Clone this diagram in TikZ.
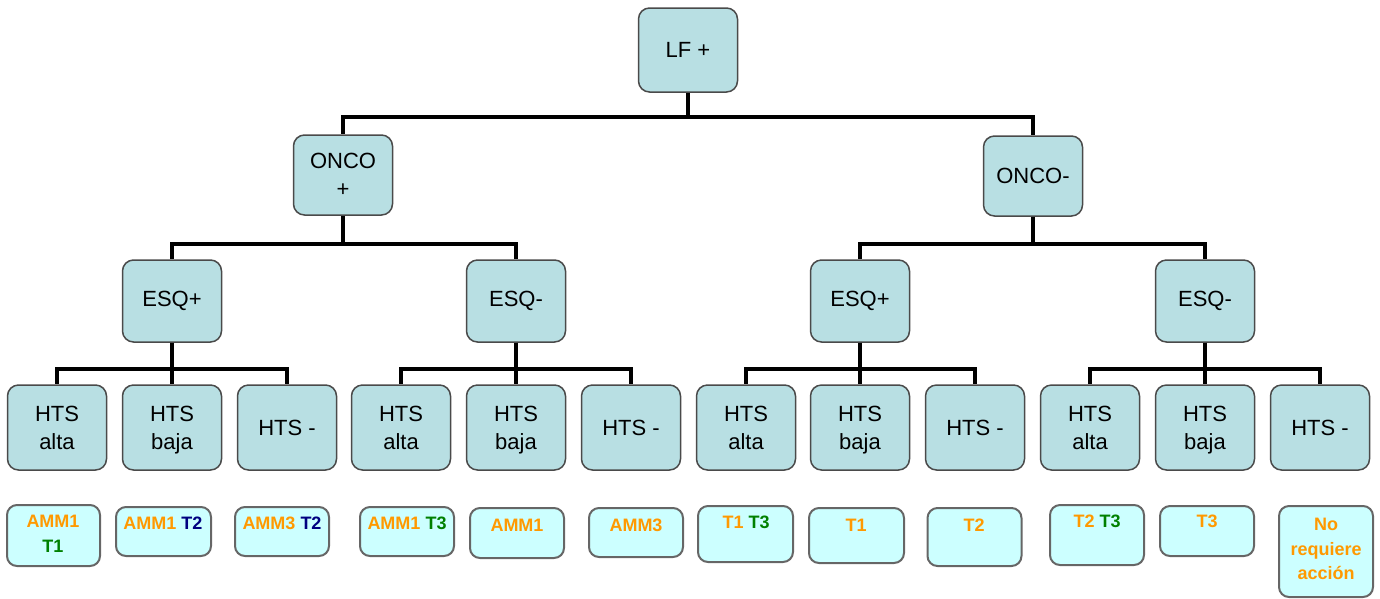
\documentclass[tikz,border=0pt]{standalone}
\usepackage{fontspec}
\setmainfont{Liberation Sans}
\definecolor{boxfill}{HTML}{B8DFE3}
\definecolor{boxline}{HTML}{4A4A4A}
\definecolor{leaffill}{HTML}{CCFFFF}
\definecolor{leafline}{HTML}{666666}
\definecolor{amb}{HTML}{FF9900}
\definecolor{vrd}{HTML}{008000}
\definecolor{nvy}{HTML}{000080}
\begin{document}
\begin{tikzpicture}[x=1pt,y=-1pt,
  box/.style={draw=boxline, line width=1.5pt, fill=boxfill, rounded corners=11pt,
    minimum width=99pt, minimum height=84pt, inner sep=0pt, align=center,
    font=\fontsize{22}{28}\selectfont},
  leaf/.style={draw=leafline, line width=2pt, fill=leaffill, rounded corners=10pt, inner sep=0pt},
  lt/.style={anchor=north, inner sep=0pt, align=center, font=\fontsize{18}{25}\selectfont\bfseries},
  conn/.style={line width=4pt, black}]
\useasboundingbox (0,0) rectangle (1380,598);

% main nodes
\node[box] (lf) at (688,50) {LF +};
\node[box, minimum height=80pt] (op) at (343,175) {ONCO\\+};
\node[box, minimum height=80pt] (om) at (1033,176) {ONCO-};
\node[box, minimum height=82pt] (e1) at (172,301) {ESQ+};
\node[box, minimum height=82pt] (e2) at (516,301) {ESQ-};
\node[box, minimum height=82pt] (e3) at (860,301) {ESQ+};
\node[box, minimum height=82pt] (e4) at (1205,301) {ESQ-};

\foreach \i/\x/\t in {1/57/{HTS\\alta},2/172/{HTS\\ba\smash{j}a},3/287/{HTS -},
  4/401/{HTS\\alta},5/516/{HTS\\ba\smash{j}a},6/631/{HTS -},
  7/746/{HTS\\alta},8/860/{HTS\\ba\smash{j}a},9/975/{HTS -},
  10/1090/{HTS\\alta},11/1205/{HTS\\ba\smash{j}a},12/1320/{HTS -}}
  \node[box, minimum height=85pt] (h\i) at (\x,427.5) {\t};

% connectors
\draw[conn] (lf.south) -- ++(0,24) -| (op.north);
\draw[conn] (lf.south) -- ++(0,24) -| (om.north);
\draw[conn] (op.south) -- ++(0,28) -| (e1.north);
\draw[conn] (op.south) -- ++(0,28) -| (e2.north);
\draw[conn] (om.south) -- ++(0,27) -| (e3.north);
\draw[conn] (om.south) -- ++(0,27) -| (e4.north);
\foreach \e/\a/\b/\c in {e1/h1/h2/h3, e2/h4/h5/h6, e3/h7/h8/h9, e4/h10/h11/h12}{
  \draw[conn] (\e.south) -- ++(0,26) -| (\a.north);
  \draw[conn] (\e.south) -- ++(0,26) -| (\c.north);
  \draw[conn] (\e.south) -- (\b.north);
}

% leaf boxes
\node[leaf, minimum width=93pt, minimum height=61pt] (r1) at (53.5,535.5) {};
\node[leaf, minimum width=95pt, minimum height=49pt] (r2) at (163.5,531.5) {};
\node[leaf, minimum width=94pt, minimum height=49pt] (r3) at (282,531.5) {};
\node[leaf, minimum width=94pt, minimum height=49pt] (r4) at (407,531.5) {};
\node[leaf, minimum width=94pt, minimum height=50pt] (r5) at (517,533) {};
\node[leaf, minimum width=94pt, minimum height=49pt] (r6) at (636,532.5) {};
\node[leaf, minimum width=95pt, minimum height=56pt] (r7) at (745.5,534) {};
\node[leaf, minimum width=95pt, minimum height=55pt] (r8) at (856.5,535.5) {};
\node[leaf, minimum width=94pt, minimum height=58pt] (r9) at (974.5,537) {};
\node[leaf, minimum width=94pt, minimum height=60pt] (r10) at (1097,535) {};
\node[leaf, minimum width=94pt, minimum height=50pt] (r11) at (1207,531) {};
\node[leaf, minimum width=94pt, minimum height=91pt] (r12) at (1326,551.5) {};

\node[lt] (t1) at (53,515) {\textcolor{amb}{AMM1}\\\textcolor{vrd}{T1}};
\node[lt] (t2) at (163,517) {\textcolor{amb}{AMM1} \textcolor{nvy}{T2}};
\node[lt] (t3) at (282,517) {\textcolor{amb}{AMM3} \textcolor{nvy}{T2}};
\node[lt] (t4) at (407,517) {\textcolor{amb}{AMM1} \textcolor{vrd}{T3}};
\node[lt] (t5) at (517,519) {\textcolor{amb}{AMM1}};
\node[lt] (t6) at (636,519) {\textcolor{amb}{AMM3}};
\node[lt] (t7) at (746,516) {\textcolor{amb}{T1} \textcolor{vrd}{T3}};
\node[lt] (t8) at (856,519) {\textcolor{amb}{T1}};
\node[lt] (t9) at (974,519) {\textcolor{amb}{T2}};
\node[lt] (t10) at (1097,515) {\textcolor{amb}{T2} \textcolor{vrd}{T3}};
\node[lt] (t11) at (1207,515) {\textcolor{amb}{T3}};
\node[lt, font=\fontsize{18}{24.5}\selectfont\bfseries] (t12) at (1326,518) {\textcolor{amb}{No}\\\textcolor{amb}{requiere}\\\textcolor{amb}{acción}};
\end{tikzpicture}
\end{document}
